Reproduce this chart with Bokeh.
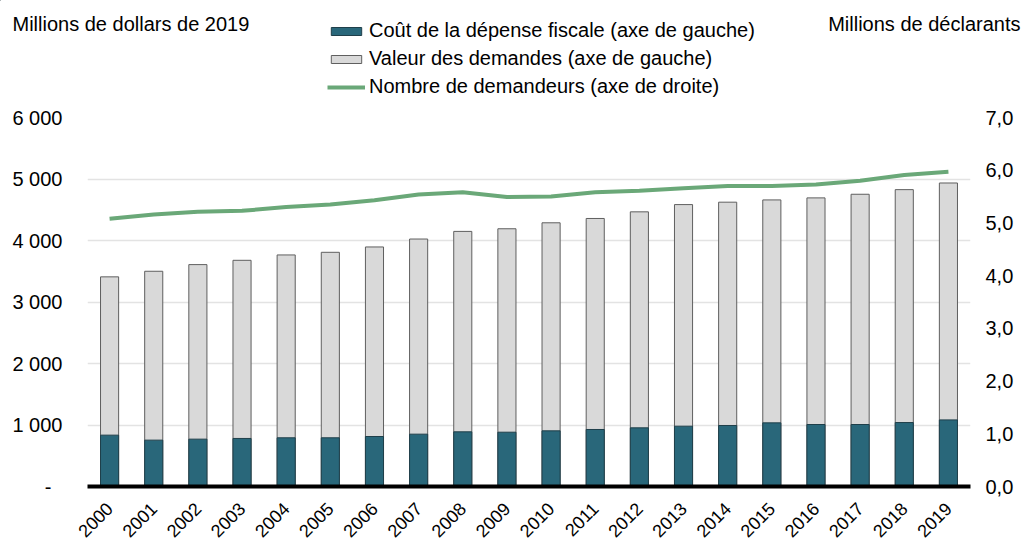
from math import pi
from bokeh.plotting import figure
from bokeh.models import (FactorRange, Range1d, LinearAxis, FixedTicker, Label,
                          Legend, LegendItem, ColumnDataSource)
from bokeh.embed import file_html
from bokeh.resources import INLINE

years = [str(y) for y in range(2000, 2020)]
cost = [835, 754, 770, 781, 792, 792, 813, 851, 889, 883,
        905, 927, 954, 981, 992, 1035, 1008, 1008, 1040, 1083]
claims_value = [3409, 3500, 3608, 3678, 3765, 3808, 3895, 4024, 4148, 4191,
                4288, 4358, 4466, 4584, 4623, 4660, 4693, 4752, 4827, 4935]
claimants = [5.08, 5.16, 5.21, 5.23, 5.30, 5.35, 5.43, 5.54, 5.58, 5.49,
             5.50, 5.58, 5.61, 5.66, 5.70, 5.70, 5.73, 5.80, 5.91, 5.97]

left_ticks = [0, 1000, 2000, 3000, 4000, 5000, 6000]
left_labels = ["-\u00a0\u00a0", "1 000", "2 000", "3 000", "4 000", "5 000", "6 000"]
right_ticks = [0, 1, 2, 3, 4, 5, 6, 7]
right_labels = ["0,0", "1,0", "2,0", "3,0", "4,0", "5,0", "6,0", "7,0"]

series_names = ["Coût de la dépense fiscale (axe de gauche)",
                "Valeur des demandes (axe de gauche)",
                "Nombre de demandeurs (axe de droite)"]
left_title = "Millions de dollars de 2019"
right_title = "Millions de déclarants"

FONT = "Liberation Sans"
TEAL = "#29677a"
TEAL_LINE = "#1f3f4a"
GRAY = "#d9d9d9"
GRAY_LINE = "#5f5f5f"
GREEN = "#6aa878"

W = 1026
HEAD_H = 104

# ---------- header: titles + legend (separate root, no frame alignment) ----------
head = figure(width=W, height=HEAD_H, x_range=Range1d(0, W), y_range=Range1d(HEAD_H, 0),
              output_backend="svg", toolbar_location=None, min_border=0,
              x_axis_type=None, y_axis_type=None)
head.outline_line_color = None
head.grid.visible = False

head.add_layout(Label(x=12, y=23, text=left_title, text_font=FONT,
                      text_font_size="20px", text_align="left",
                      text_baseline="middle", text_color="black"))
head.add_layout(Label(x=1020, y=23, text=right_title, text_font=FONT,
                      text_font_size="20px", text_align="right",
                      text_baseline="middle", text_color="black"))

# off-screen proxies that only carry the legend styles
h_cost = head.vbar(x=[-5000], top=[-50], width=1, fill_color=TEAL, line_color=TEAL_LINE)
h_val = head.vbar(x=[-5000], top=[-50], width=1, fill_color=GRAY, line_color=GRAY_LINE)
h_line = head.line(x=[-5000, -4000], y=[-50, -50], line_color=GREEN, line_width=4)

legend = Legend(items=[
    LegendItem(label=series_names[0], renderers=[h_cost]),
    LegendItem(label=series_names[1], renderers=[h_val]),
    LegendItem(label=series_names[2], renderers=[h_line]),
], location=(327, 6), orientation="vertical")
legend.background_fill_alpha = 0
legend.border_line_color = None
legend.padding = 0
legend.margin = 0
legend.spacing = 5
legend.glyph_width = 38
legend.glyph_height = 10
legend.label_height = 20
legend.label_standoff = 4
legend.label_text_font = FONT
legend.label_text_font_size = "20px"
legend.label_text_color = "black"
head.add_layout(legend, "center")

# ---------- main chart ----------
src = ColumnDataSource(dict(year=years, cost=cost, value=claims_value, n=claimants))

p = figure(x_range=FactorRange(*years), y_range=Range1d(0, 6000),
           width=W, height=546 - HEAD_H, output_backend="svg", toolbar_location=None,
           min_border_left=87, min_border_right=56, min_border_top=117 - HEAD_H,
           min_border_bottom=58)
p.extra_y_ranges = {"right": Range1d(0, 7)}
p.outline_line_color = None

p.vbar(x="year", top="value", width=0.41, source=src,
       fill_color=GRAY, line_color=GRAY_LINE, line_width=1)
p.vbar(x="year", top="cost", width=0.41, source=src,
       fill_color=TEAL, line_color=TEAL_LINE, line_width=1)
p.line(x="year", y="n", source=src, y_range_name="right",
       line_color=GREEN, line_width=4)

# left axis
ya = p.yaxis[0]
ya.ticker = FixedTicker(ticks=left_ticks)
ya.major_label_overrides = {t: l for t, l in zip(left_ticks, left_labels)}
ya.axis_line_color = None
ya.major_tick_out = 0
ya.major_tick_line_color = None
ya.minor_tick_line_color = None
ya.major_label_standoff = 25
ya.major_label_text_font = FONT
ya.major_label_text_font_size = "20px"
ya.major_label_text_color = "black"

# right axis
ra = LinearAxis(y_range_name="right", ticker=FixedTicker(ticks=right_ticks))
ra.major_label_overrides = {t: l for t, l in zip(right_ticks, right_labels)}
ra.axis_line_color = None
ra.major_tick_out = 0
ra.major_tick_line_color = None
ra.minor_tick_line_color = None
ra.major_label_standoff = 15
ra.major_label_text_font = FONT
ra.major_label_text_font_size = "20px"
ra.major_label_text_color = "black"
p.add_layout(ra, "right")

# x axis
xa = p.xaxis[0]
xa.axis_line_color = "black"
xa.axis_line_width = 4
xa.major_tick_out = 0
xa.major_tick_line_color = None
xa.minor_tick_line_color = None
xa.major_label_orientation = pi / 4
xa.major_label_standoff = 19
xa.major_label_text_font = FONT
xa.major_label_text_font_size = "18px"
xa.major_label_text_color = "black"

p.xgrid.grid_line_color = None
p.ygrid.grid_line_color = "#e3e3e3"
p.ygrid.grid_line_width = 1.5

open("out.html", "w").write(file_html([head, p], INLINE))
